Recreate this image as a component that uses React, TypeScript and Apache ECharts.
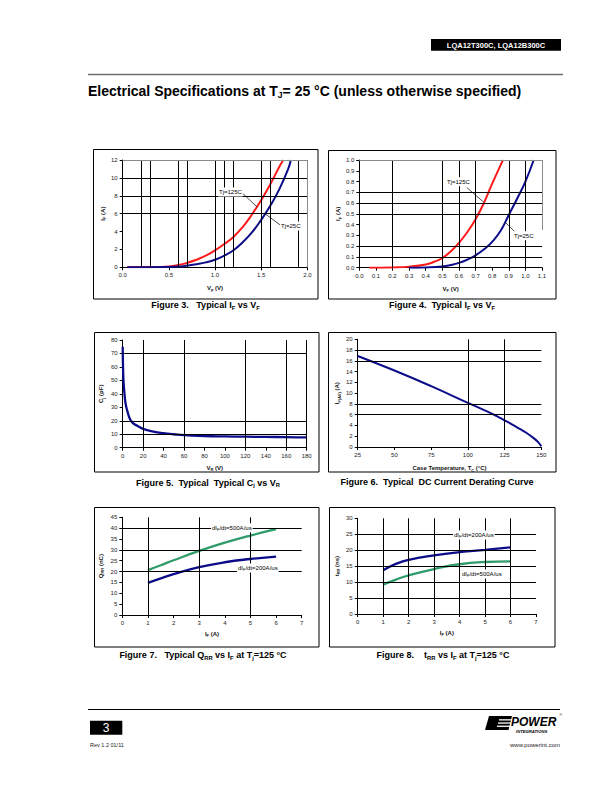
import React, { useEffect, useRef } from 'react';
import * as echarts from 'echarts';

const FONT = '"Liberation Sans", Arial, Helvetica, sans-serif';

// ---------- Figure 3: Typical IF vs VF ----------
const fig3VfHot = [0.05, 0.3, 0.5, 0.6, 0.7, 0.8, 0.9, 1.0, 1.1, 1.2, 1.3, 1.4, 1.5, 1.6, 1.7, 1.74];
const fig3IfHot = [0.02, 0.03, 0.1, 0.25, 0.5, 0.85, 1.3, 1.9, 2.6, 3.4, 4.5, 5.9, 7.5, 9.3, 11.3, 12];
const fig3VfCold = [0.05, 0.5, 0.6, 0.7, 0.8, 0.9, 1.0, 1.1, 1.2, 1.3, 1.4, 1.5, 1.6, 1.7, 1.8, 1.82];
const fig3IfCold = [0.0, 0.03, 0.08, 0.2, 0.35, 0.55, 0.85, 1.3, 1.9, 2.8, 3.9, 5.3, 6.9, 8.8, 11.2, 12];
const fig3VGrid = [0.2, 0.3, 0.6, 0.7, 1.0, 1.1, 1.2, 1.5, 1.6, 1.9];
const fig3HGrid = [6, 8, 10];

// ---------- Figure 4: Typical IF vs VF (low current) ----------
const fig4VfHot = [0.06, 0.2, 0.3, 0.4, 0.45, 0.5, 0.55, 0.6, 0.65, 0.7, 0.75, 0.8, 0.85, 0.865];
const fig4IfHot = [0, 0.003, 0.01, 0.03, 0.055, 0.09, 0.15, 0.23, 0.33, 0.45, 0.6, 0.78, 0.95, 1.0];
const fig4VfCold = [0.3, 0.4, 0.5, 0.55, 0.6, 0.65, 0.7, 0.75, 0.8, 0.85, 0.9, 0.95, 1.0, 1.05];
const fig4IfCold = [0, 0.003, 0.012, 0.025, 0.045, 0.075, 0.115, 0.17, 0.24, 0.34, 0.49, 0.64, 0.8, 1.0];
const fig4VGrid = [0.2, 0.5, 0.6, 0.7, 0.9, 1.0];
const fig4HGrid = [0.1, 0.2, 0.5, 0.6, 0.7];

// ---------- Figure 5: Cj vs VR ----------
const fig5Vr = [0, 0.5, 1, 2, 3, 5, 7, 10, 15, 20, 30, 40, 50, 60, 80, 100, 120, 140, 160, 180];
const fig5Cj = [75, 55, 47, 38, 32, 26, 21.5, 18.3, 16, 14, 12, 10.8, 10, 9.3, 8.7, 8.4, 8.2, 8, 7.9, 7.6];
const fig5VGrid = [20, 60, 120, 160, 180];
const fig5HGrid = [10, 20, 70];

// ---------- Figure 6: DC current derating ----------
const fig6Tc = [25, 50, 75, 100, 110, 120, 125, 130, 135, 140, 145, 148, 150];
const fig6If = [16.9, 14.2, 11.3, 8.2, 7.0, 5.7, 4.95, 4.2, 3.4, 2.6, 1.6, 0.85, 0.15];
const fig6VGrid = [100, 125];
const fig6HGrid = [6, 8, 16, 18];

// ---------- Figure 7: QRR vs IF ----------
const fig7If = [1, 1.5, 2, 3, 4, 5, 6];
const fig7Q500 = [20.7, 22.9, 25.2, 29.5, 33.3, 36.6, 39.5];
const fig7Q200 = [14.8, 16.9, 18.8, 22.0, 24.3, 25.8, 26.9];
const fig7VGrid = [1, 3, 5];
const fig7HGrid = [20, 30, 40];

// ---------- Figure 8: tRR vs IF ----------
const fig8If = [1, 1.5, 2, 3, 4, 5, 6];
const fig8T200 = [13.7, 15.7, 17.0, 18.4, 19.4, 20.1, 20.9];
const fig8T500 = [9.2, 10.8, 12.1, 14.1, 15.6, 16.3, 16.5];
const fig8VGrid = [1, 2, 3, 4, 5, 6];
const fig8HGrid = [5, 10, 15, 20, 25];

const RED = '#ff1a1a';
const BLUE = '#0c0c8a';
const GREEN = '#2f9b68';

const pairs = (xs: number[], ys: number[]) => xs.map((x, i) => [x, ys[i]]);

const nameRich = {
  n: { fontSize: 6, fontWeight: 'bold', fontFamily: FONT, color: '#111', lineHeight: 8, verticalAlign: 'middle' },
  s: { fontSize: 4, fontWeight: 'bold', fontFamily: FONT, color: '#111', lineHeight: 4, verticalAlign: 'bottom' },
};

function mkAxis(gi: number, min: number, max: number, interval: number, name: string, gap: number, dec: number) {
  return {
    type: 'value', gridIndex: gi, min, max, interval,
    name, nameLocation: 'middle', nameGap: gap,
    nameTextStyle: { rich: nameRich },
    axisLine: { show: true, onZero: false, lineStyle: { color: '#000', width: 1 } },
    axisTick: { show: true, length: 3, lineStyle: { color: '#000', width: 1 } },
    axisLabel: {
      fontSize: 6, color: '#222', margin: 5, fontFamily: FONT,
      formatter: (v: number) => v.toFixed(dec), showMinLabel: true, showMaxLabel: true,
    },
    splitLine: { show: false },
  };
}

function gridSeries(gi: number, vx: number[], hy: number[], extra: any[] = []) {
  return {
    type: 'line', xAxisIndex: gi, yAxisIndex: gi, data: [], silent: true, z: 1,
    showSymbol: false, symbol: 'none', lineStyle: { opacity: 0 },
    markLine: {
      silent: true, symbol: ['none', 'none'], label: { show: false },
      lineStyle: { color: '#000', width: 1, type: 'solid' },
      emphasis: { disabled: true },
      data: [...vx.map((v) => ({ xAxis: v })), ...hy.map((v) => ({ yAxis: v })), ...extra],
    },
  };
}

function curve(gi: number, xs: number[], ys: number[], color: string, width: number, arrows?: number[][][]) {
  const s: any = {
    type: 'line', xAxisIndex: gi, yAxisIndex: gi, data: pairs(xs, ys),
    showSymbol: false, symbol: 'none', smooth: 0.5,
    lineStyle: { color, width }, itemStyle: { color }, z: 3, silent: true,
  };
  if (arrows) {
    s.markLine = {
      silent: true, symbol: ['none', 'arrow'], symbolSize: [0, 4], label: { show: false },
      lineStyle: { color: '#000', width: 0.7, type: 'solid' },
      emphasis: { disabled: true },
      data: arrows.map((a) => [{ coord: a[0] }, { coord: a[1] }]),
    };
  }
  return s;
}

const capRich = {
  b: { fontSize: 9, fontWeight: 'bold', fontFamily: FONT, fill: '#000', lineHeight: 11, verticalAlign: 'middle' },
  s: { fontSize: 5.8, fontWeight: 'bold', fontFamily: FONT, fill: '#000', lineHeight: 5, verticalAlign: 'bottom' },
};
const lblRich = {
  a: { fontSize: 6, fontFamily: FONT, fill: '#000', lineHeight: 7, verticalAlign: 'middle' },
  s: { fontSize: 4, fontFamily: FONT, fill: '#000', lineHeight: 4, verticalAlign: 'bottom' },
};

function caption(x: number, y: number, text: string) {
  return { type: 'text', x, y, z: 50, style: { text, rich: capRich, align: 'center', verticalAlign: 'middle' } };
}
function box(x: number, y: number, w: number, h: number) {
  return { type: 'rect', z: 0, shape: { x, y, width: w, height: h }, style: { fill: 'none', stroke: '#000', lineWidth: 1 } };
}
function note(x: number, y: number, text: string) {
  return {
    type: 'text', x, y, z: 100,
    style: { text, rich: lblRich, align: 'left', verticalAlign: 'middle', backgroundColor: '#fff', padding: [1, 1, 1, 1] },
  };
}

function buildOption(): any {
  const grids = [
    { left: 122.7, top: 160, width: 184.6, height: 107.3 },
    { left: 359.3, top: 160, width: 182.7, height: 107.7 },
    { left: 122.7, top: 340, width: 184, height: 107.7 },
    { left: 357.7, top: 339.3, width: 183.6, height: 107.7 },
    { left: 122.3, top: 517.3, width: 179.4, height: 97.7 },
    { left: 357.7, top: 518.3, width: 178.3, height: 95.7 },
  ].map((g) => ({ ...g, show: false, containLabel: false, outerBoundsMode: 'none' }));

  const xAxis = [
    mkAxis(0, 0, 2, 0.5, '{n|V}{s|F}{n| (V)}', 17, 1),
    mkAxis(1, 0, 1.1, 0.1, '{n|V}{s|F}{n| (V)}', 17, 1),
    mkAxis(2, 0, 180, 20, '{n|V}{s|R}{n| (V)}', 16, 0),
    mkAxis(3, 25, 150, 25, '{n|Case Temperature, T}{s|C}{n| (°C)}', 17, 0),
    mkAxis(4, 0, 7, 1, '{n|I}{s|F}{n| (A)}', 14.5, 0),
    mkAxis(5, 0, 7, 1, '{n|I}{s|F}{n| (A)}', 14.5, 0),
  ];
  const yAxis = [
    mkAxis(0, 0, 12, 2, '{n|I}{s|F}{n| (A)}', 16, 0),
    mkAxis(1, 0, 1, 0.1, '{n|I}{s|F}{n| (A)}', 16, 1),
    mkAxis(2, 0, 80, 10, '{n|C}{s|j}{n| (pF)}', 17.5, 0),
    mkAxis(3, 0, 20, 2, '{n|I}{s|F(AV)}{n| (A)}', 16.5, 0),
    mkAxis(4, 0, 45, 5, '{n|Q}{s|RR}{n| (nC)}', 17.5, 0),
    mkAxis(5, 0, 30, 5, '{n|t}{s|RR}{n| (ns)}', 17, 0),
  ];

  const series = [
    gridSeries(0, fig3VGrid, fig3HGrid, [
      { xAxis: 2, lineStyle: { color: '#8a8a8a' } },
      { yAxis: 12, lineStyle: { color: '#8a8a8a' } },
    ]),
    curve(0, fig3VfHot, fig3IfHot, RED, 2, [[[1.3, 8.27], [1.455, 6.75]]]),
    curve(0, fig3VfCold, fig3IfCold, BLUE, 2, [[[1.711, 4.7], [1.548, 5.95]]]),

    gridSeries(1, fig4VGrid, fig4HGrid, [
      { yAxis: 1.0, lineStyle: { color: '#8a8a8a' } },
      [{ coord: [1.1, 1.0], lineStyle: { color: '#8a8a8a' } }, { coord: [1.1, 0.35] }],
    ]),
    curve(1, fig4VfHot, fig4IfHot, RED, 2, [[[0.648, 0.743], [0.748, 0.61]]]),
    curve(1, fig4VfCold, fig4IfCold, BLUE, 2, [[[0.946, 0.319], [0.88, 0.42]]]),

    gridSeries(2, fig5VGrid, fig5HGrid),
    curve(2, fig5Vr, fig5Cj, BLUE, 2.3),

    gridSeries(3, fig6VGrid, fig6HGrid),
    curve(3, fig6Tc, fig6If, BLUE, 2),

    gridSeries(4, fig7VGrid, fig7HGrid),
    curve(4, fig7If, fig7Q500, GREEN, 2.3),
    curve(4, fig7If, fig7Q200, BLUE, 2.3),

    gridSeries(5, fig8VGrid, fig8HGrid),
    curve(5, fig8If, fig8T200, BLUE, 2.3),
    curve(5, fig8If, fig8T500, GREEN, 2.3),
  ];

  const graphic: any[] = [
    // header
    { type: 'rect', z: 10, shape: { x: 431, y: 39, width: 130, height: 11.7 }, style: { fill: '#000' } },
    {
      type: 'text', z: 11, x: 496, y: 45,
      style: { text: 'LQA12T300C, LQA12B300C', fill: '#fff', fontSize: 7.5, fontWeight: 'bold', fontFamily: FONT, align: 'center', verticalAlign: 'middle' },
    },
    { type: 'line', z: 10, shape: { x1: 88, y1: 74.5, x2: 563, y2: 74.5 }, style: { stroke: '#6f6f6f', lineWidth: 1.6 } },
    {
      type: 'text', z: 11, x: 88, y: 91,
      style: {
        text: '{b|Electrical Specifications at T}{s|J}{b|= 25 °C (unless otherwise specified)}',
        align: 'left', verticalAlign: 'middle',
        rich: {
          b: { fontSize: 14, fontWeight: 'bold', fontFamily: FONT, fill: '#000', lineHeight: 16, verticalAlign: 'middle' },
          s: { fontSize: 8.5, fontWeight: 'bold', fontFamily: FONT, fill: '#000', lineHeight: 7, verticalAlign: 'bottom' },
        },
      },
    },
    // boxes
    box(93.5, 149.5, 224.5, 149.5),
    box(328.5, 150.5, 227.5, 148.5),
    box(94.5, 332.5, 224.5, 139.5),
    box(328.5, 332.5, 227.5, 139.5),
    box(94.5, 507.5, 224.5, 139.5),
    box(329.5, 507.5, 225.5, 139.5),
    // captions
    caption(205.5, 305, '{b|Figure 3.   Typical I}{s|F}{b| vs V}{s|F}'),
    caption(442, 305, '{b|Figure 4.  Typical I}{s|F}{b| vs V}{s|F}'),
    caption(208, 482.5, '{b|Figure 5.  Typical  Typical C}{s|j}{b| vs V}{s|R}'),
    caption(437, 482, '{b|Figure 6.  Typical  DC Current Derating Curve}'),
    caption(203, 655, '{b|Figure 7.   Typical Q}{s|RR}{b| vs I}{s|F}{b| at T}{s|j}{b|=125 °C}'),
    caption(443, 655, '{b|Figure 8.    t}{s|RR}{b| vs I}{s|F}{b| at T}{s|j}{b|=125 °C}'),
    // annotations
    note(218, 192, '{a|Tj=125C}'),
    note(280, 226, '{a|Tj=25C}'),
    note(446, 181.7, '{a|Tj=125C}'),
    note(513, 235.7, '{a|Tj=25C}'),
    note(211, 527.7, '{a|dI}{s|F}{a|/dt=500A/us}'),
    note(237, 568, '{a|dI}{s|F}{a|/dt=200A/us}'),
    note(453, 535, '{a|dI}{s|F}{a|/dt=200A/us}'),
    note(461, 574, '{a|dI}{s|F}{a|/dt=500A/us}'),
    // footer
    { type: 'line', z: 10, shape: { x1: 88, y1: 709.5, x2: 560, y2: 709.5 }, style: { stroke: '#000', lineWidth: 1 } },
    { type: 'rect', z: 10, shape: { x: 90, y: 720.7, width: 32.3, height: 14 }, style: { fill: '#000' } },
    {
      type: 'text', z: 11, x: 106, y: 728,
      style: { text: '3', fill: '#fff', fontSize: 12, fontFamily: FONT, align: 'center', verticalAlign: 'middle' },
    },
    {
      type: 'text', z: 11, x: 90, y: 745,
      style: { text: 'Rev 1.2 01/11', fill: '#222', fontSize: 5.5, fontFamily: FONT, align: 'left', verticalAlign: 'middle' },
    },
    {
      type: 'text', z: 11, x: 560, y: 745,
      style: { text: 'www.powerint.com', fill: '#222', fontSize: 6, fontFamily: FONT, align: 'right', verticalAlign: 'middle' },
    },
    // logo
    { type: 'polygon', z: 10, shape: { points: [[489, 716], [512, 716], [508.5, 730], [485, 730]] }, style: { fill: '#000' } },
    { type: 'rect', z: 11, shape: { x: 499, y: 719.2, width: 13, height: 1.3 }, style: { fill: '#fff' } },
    { type: 'rect', z: 11, shape: { x: 498, y: 722.4, width: 13, height: 1.3 }, style: { fill: '#fff' } },
    { type: 'rect', z: 11, shape: { x: 497, y: 725.6, width: 13, height: 1.3 }, style: { fill: '#fff' } },
    {
      type: 'text', z: 11, x: 511, y: 722,
      style: { text: 'POWER', fill: '#000', fontSize: 12, fontWeight: 'bold', fontStyle: 'italic', fontFamily: FONT, align: 'left', verticalAlign: 'middle' },
    },
    {
      type: 'text', z: 11, x: 516, y: 731.5,
      style: { text: 'INTEGRATIONS', fill: '#000', fontSize: 4.2, fontWeight: 'bold', fontStyle: 'italic', fontFamily: FONT, align: 'left', verticalAlign: 'middle' },
    },
    {
      type: 'text', z: 11, x: 559.5, y: 715,
      style: { text: '®', fill: '#000', fontSize: 3.5, fontFamily: FONT, align: 'left', verticalAlign: 'middle' },
    },
  ];

  return {
    animation: false,
    backgroundColor: '#fff',
    grid: grids,
    xAxis,
    yAxis,
    series,
    graphic,
  };
}

export default function App() {
  const ref = useRef<HTMLDivElement>(null);
  useEffect(() => {
    if (!ref.current) return;
    const chart = echarts.init(ref.current, null, { renderer: 'svg' });
    chart.setOption(buildOption());
    return () => chart.dispose();
  }, []);
  return (
    <div
      ref={ref}
      style={{ position: 'absolute', left: 0, top: 0, width: 612, height: 792, background: '#fff' }}
    />
  );
}
